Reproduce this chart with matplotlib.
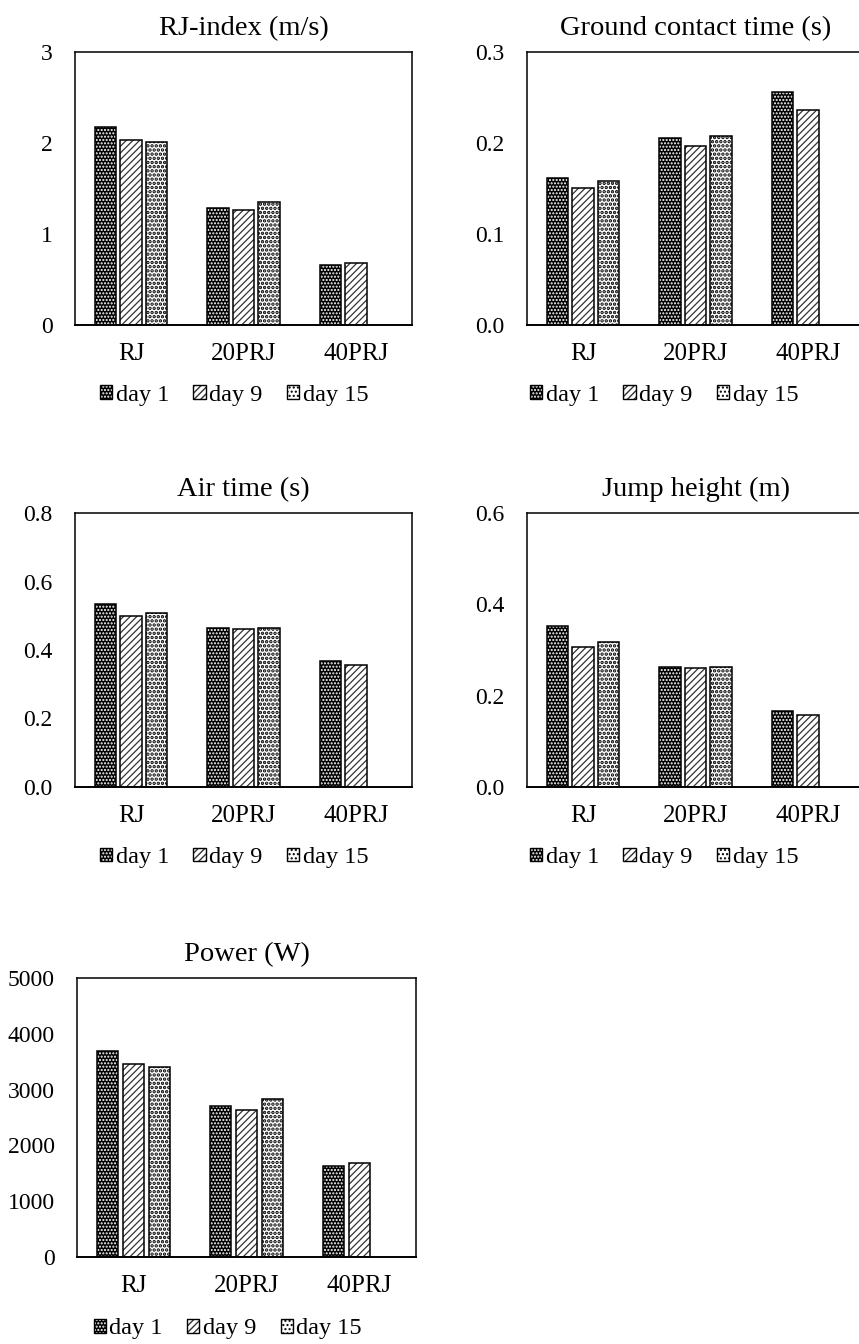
import numpy as np
import matplotlib
matplotlib.use('Agg')
import matplotlib.pyplot as plt
from matplotlib.patches import Patch

plt.rcParams['font.family'] = ['Liberation Serif', 'DejaVu Serif']
plt.rcParams['hatch.linewidth'] = 1.0

categories = ['RJ', '20PRJ', '40PRJ']
days = ['day 1', 'day 9', 'day 15']

rj_index = {'day 1': [2.18, 1.29, 0.66], 'day 9': [2.03, 1.26, 0.68], 'day 15': [2.01, 1.35, np.nan]}
contact_time = {'day 1': [0.162, 0.206, 0.256], 'day 9': [0.151, 0.197, 0.236], 'day 15': [0.158, 0.208, np.nan]}
air_time = {'day 1': [0.534, 0.464, 0.368], 'day 9': [0.499, 0.461, 0.356], 'day 15': [0.508, 0.464, np.nan]}
jump_height = {'day 1': [0.352, 0.263, 0.166], 'day 9': [0.307, 0.261, 0.158], 'day 15': [0.317, 0.263, np.nan]}
power = {'day 1': [3700, 2698, 1636], 'day 9': [3450, 2639, 1677], 'day 15': [3409, 2836, np.nan]}

# (fill colour, hatch colour, hatch, hatch linewidth)
STYLES = {
    'day 1': ('black', 'white', '.....', 1.0),
    'day 9': ('white', '#333333', '/////', 0.9),
    'day 15': ('white', 'black', '....', 1.7),
}

W, H = 859, 1344
fig = plt.figure(figsize=(W / 100, H / 100), dpi=100)


def px_axes(left, right, top, bottom):
    return fig.add_axes([left / W, 1 - bottom / H, (right - left) / W, (bottom - top) / H])


def set_hlw(p, lw):
    if hasattr(p, 'set_hatch_linewidth'):
        p.set_hatch_linewidth(lw)


panels = [
    # title, data, ylim, yticks, fmt, box(px), legend anchor
    ('RJ-index (m/s)', rj_index, 3, [0, 1, 2, 3], '{:.0f}', (75, 412, 52, 325), 0.472),
    ('Ground contact time (s)', contact_time, 0.3, [0, 0.1, 0.2, 0.3], '{:.1f}', (527, 864, 52, 325), 0.407),
    ('Air time (s)', air_time, 0.8, [0, 0.2, 0.4, 0.6, 0.8], '{:.1f}', (75, 412, 513, 787), 0.472),
    ('Jump height (m)', jump_height, 0.6, [0, 0.2, 0.4, 0.6], '{:.1f}', (527, 864, 513, 787), 0.407),
    ('Power (W)', power, 5000, [0, 1000, 2000, 3000, 4000, 5000], '{:.0f}', (77, 416, 978, 1257), 0.445),
]

x = np.arange(len(categories))
width = 0.19
step = 0.228

for title, data, ymax, yticks, fmt, box, lx in panels:
    ax = px_axes(*box)
    for i, d in enumerate(days):
        fc, hc, hatch, hlw = STYLES[d]
        pos = x + (i - 1) * step
        bars = ax.bar(pos, data[d], width, color=fc, edgecolor=hc, hatch=hatch, linewidth=0, zorder=2)
        for b in bars:
            set_hlw(b, hlw)
        ax.bar(pos, data[d], width, fill=False, edgecolor='black', linewidth=1.1, zorder=3)
    ax.set_xlim(-0.5, 2.5)
    ax.set_ylim(0, ymax)
    ax.set_yticks(yticks)
    ax.set_yticklabels([fmt.format(v) for v in yticks], fontsize=17)
    ax.set_xticks(x)
    ax.set_xticklabels(categories, fontsize=18)
    ax.tick_params(axis='y', length=0, pad=16)
    ax.tick_params(axis='x', length=0, pad=13)
    for s in ax.spines.values():
        s.set_linewidth(1.1)
    ax.spines['bottom'].set_linewidth(1.4)
    ax.set_title(title, fontsize=20.5, pad=12)

    handles = []
    for d in days:
        fc, hc, hatch, hlw = STYLES[d]
        p = Patch(facecolor=fc, edgecolor=hc, hatch=hatch, linewidth=0)
        set_hlw(p, hlw)
        handles.append((p, Patch(fill=False, edgecolor='black', linewidth=1.0)))
    ax.legend(handles, days, loc='center', bbox_to_anchor=(lx, -0.258), ncol=3, frameon=False,
              fontsize=17.5, handlelength=0.5, handleheight=0.5, handletextpad=0.15,
              columnspacing=1.0, borderaxespad=0)

fig.savefig('out.png', dpi=100, facecolor='white')
